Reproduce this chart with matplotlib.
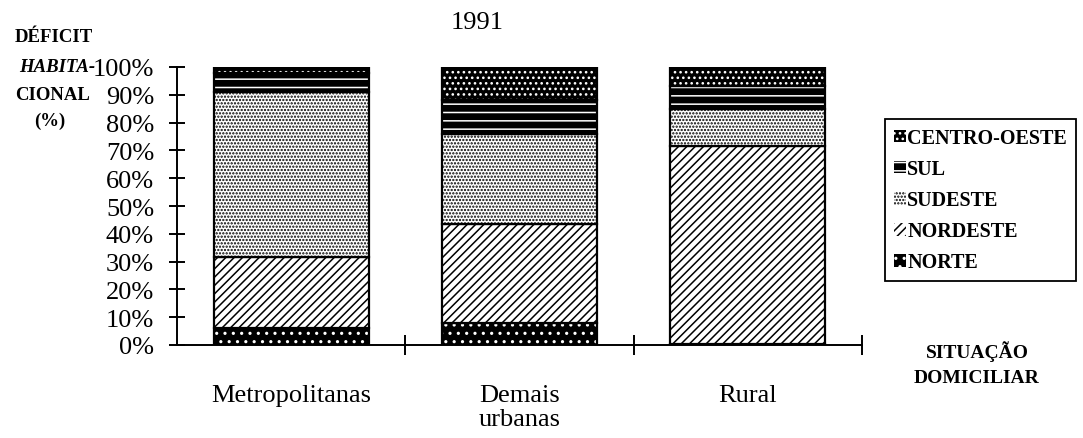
import matplotlib
matplotlib.use("Agg")
import matplotlib.pyplot as plt
from matplotlib.patches import Patch
import numpy as np

categories = ["Metropolitanas", "Demais\nurbanas", "Rural"]
regions = ["NORTE", "NORDESTE", "SUDESTE", "SUL", "CENTRO-OESTE"]
norte = [6.0, 8.0, 0.5]
nordeste = [25.5, 35.5, 71.0]
sudeste = [59.5, 32.5, 13.5]
sul = [7.0, 12.0, 8.0]
centro_oeste = [2.0, 12.0, 7.0]
yticks = [0, 10, 20, 30, 40, 50, 60, 70, 80, 90, 100]
ytick_labels = [f"{v}%" for v in yticks]
title = "1991"

series = [norte, nordeste, sudeste, sul, centro_oeste]
styles = [
    dict(facecolor="black", hatch_color="white", hatch=".."),
    dict(facecolor="white", hatch_color="black", hatch="////"),
    dict(facecolor="white", hatch_color="black", hatch="....."),
    dict(facecolor="black", hatch_color="white", hatch="--"),
    dict(facecolor="black", hatch_color="white", hatch="..."),
]

plt.rcParams["font.family"] = ["Liberation Serif", "DejaVu Serif"]
plt.rcParams["hatch.linewidth"] = 1.1

W, H = 1083, 439
fig = plt.figure(figsize=(W / 100, H / 100), dpi=100)
ax = fig.add_axes([177 / W, 1 - 346 / H, (862 - 177) / W, (346 - 68) / H])

x = np.arange(len(categories))
width = 0.68
bottom = np.zeros(len(categories))
for vals, st in zip(series, styles):
    vals = np.array(vals)
    ax.bar(x, vals, width, bottom=bottom, color=st["facecolor"],
           edgecolor=st["hatch_color"], hatch=st["hatch"], linewidth=0)
    ax.bar(x, vals, width, bottom=bottom, fill=False, edgecolor="black", linewidth=1.6)
    bottom += vals

ax.set_xlim(-0.5, 2.5)
ax.set_ylim(0, 100)
for s in ["top", "right"]:
    ax.spines[s].set_visible(False)
ax.spines["left"].set_linewidth(1.4)
ax.spines["bottom"].set_linewidth(1.4)
ax.set_yticks(yticks)
ax.set_yticklabels(ytick_labels, fontsize=19)
ax.tick_params(axis="y", direction="inout", length=11, width=1.4, pad=11)
ax.set_xticks(x)
ax.set_xticklabels(categories, fontsize=19, linespacing=1.1)
ax.tick_params(axis="x", which="major", length=0, pad=28)
ax.set_xticks([0.5, 1.5, 2.5], minor=True)
ax.tick_params(axis="x", which="minor", direction="inout", length=14, width=1.4)
ax.set_yticks([], minor=True)

fig.text(477 / W, 1 - 23 / H, title, ha="center", va="center", fontsize=19)
ylab_lines = [("DÉFICIT", 54, 37, "normal"), ("HABITA-", 57, 67, "italic"),
              ("CIONAL", 53, 95, "normal"), ("(%)", 50, 121, "normal")]
for txt, xx, yy, sty in ylab_lines:
    fig.text(xx / W, 1 - yy / H, txt, ha="center", va="center",
             fontsize=13.5, fontweight="bold", fontstyle=sty)
fig.text(977 / W, 1 - 352 / H, "SITUAÇÃO", ha="center", va="center",
         fontsize=14, fontweight="bold")
fig.text(977 / W, 1 - 379 / H, "DOMICILIAR", ha="center", va="center",
         fontsize=14, fontweight="bold")

handles = []
for name, st in zip(regions, styles):
    handles.append(Patch(facecolor=st["facecolor"], edgecolor=st["hatch_color"],
                         hatch=st["hatch"], linewidth=0, label=name))
leg = fig.legend(handles[::-1], regions[::-1], loc="upper left",
                 bbox_to_anchor=(885 / W, 1 - 120 / H),
                 prop=dict(family=["Liberation Serif"], weight="bold", size=14.5),
                 handlelength=0.6, handleheight=0.6, handletextpad=0.05,
                 labelspacing=0.55, borderpad=0.45, borderaxespad=0,
                 fancybox=False, edgecolor="black", framealpha=1)
leg.get_frame().set_linewidth(1.3)

fig.savefig("out.png", dpi=100)
